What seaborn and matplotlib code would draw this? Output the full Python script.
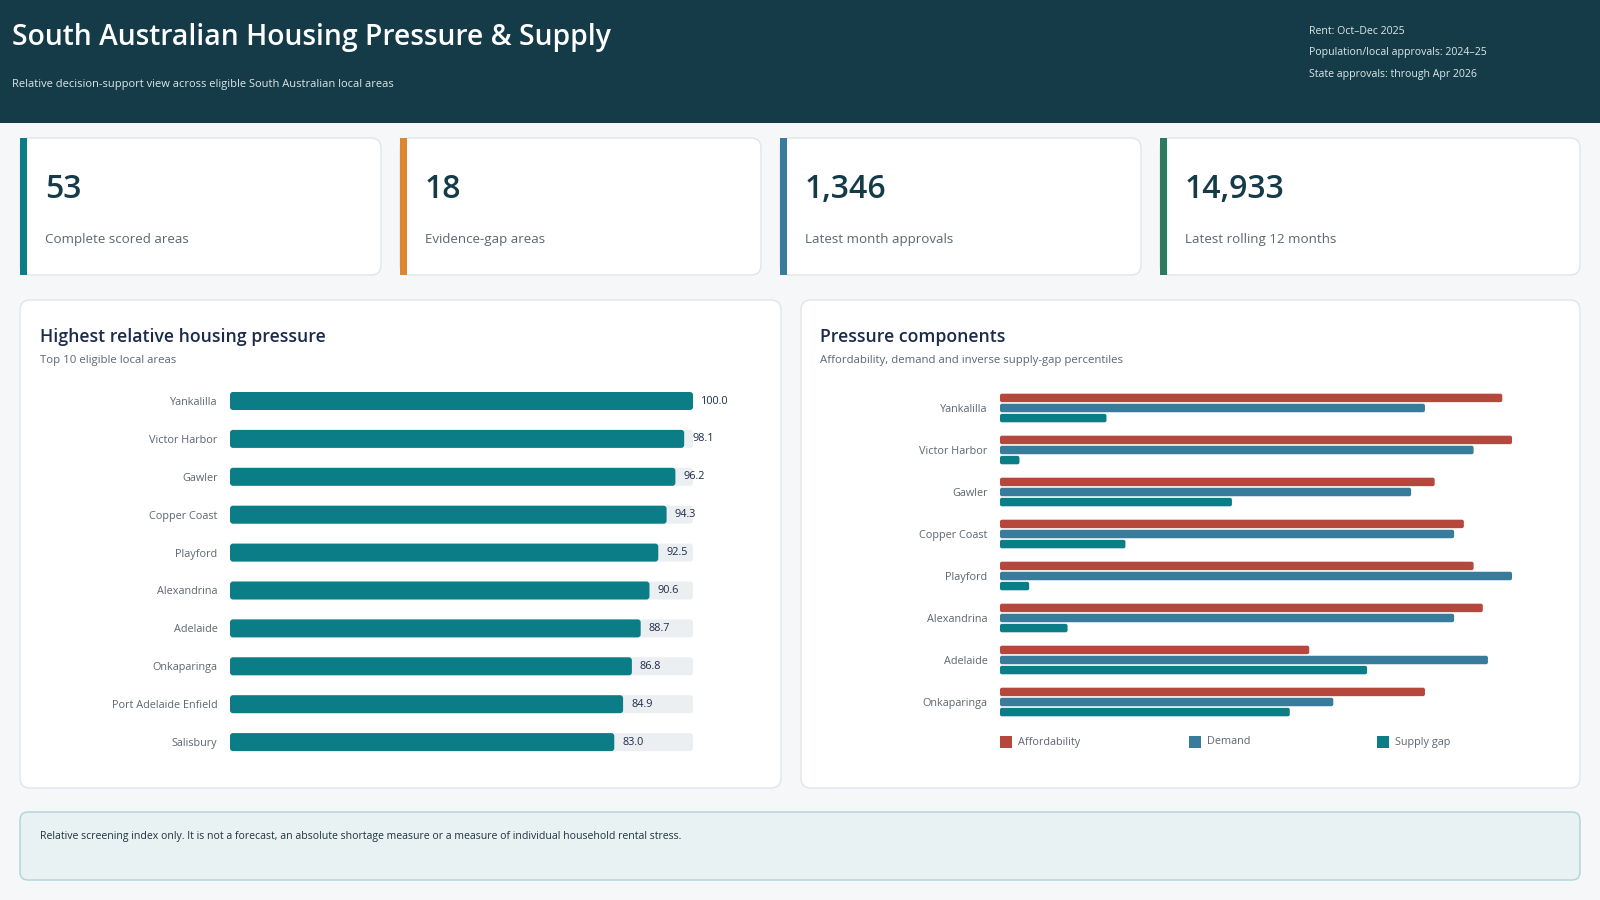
import numpy as np
import pandas as pd
import matplotlib
matplotlib.use("Agg")
import matplotlib.pyplot as plt
from matplotlib.patches import FancyBboxPatch, Rectangle
import seaborn as sns

# header texts
title = "South Australian Housing Pressure & Supply"
subtitle = "Relative decision-support view across eligible South Australian local areas"
period_notes = ["Rent: Oct\u2013Dec 2025",
                "Population/local approvals: 2024\u201325",
                "State approvals: through Apr 2026"]

# KPI cards
kpi_values = ["53", "18", "1,346", "14,933"]
kpi_labels = ["Complete scored areas", "Evidence-gap areas",
              "Latest month approvals", "Latest rolling 12 months"]
kpi_colors = ["#0b7d86", "#dd8530", "#387b9b", "#2e7a5e"]

# left chart: pressure index
top_areas = ["Yankalilla", "Victor Harbor", "Gawler", "Copper Coast", "Playford",
             "Alexandrina", "Adelaide", "Onkaparinga", "Port Adelaide Enfield", "Salisbury"]
pressure_index = [100.0, 98.1, 96.2, 94.3, 92.5, 90.6, 88.7, 86.8, 84.9, 83.0]

# right chart: components (percentiles)
component_areas = top_areas[:8]
affordability = [98.1, 100.0, 84.9, 90.6, 92.5, 94.3, 60.4, 83.0]
demand = [83.0, 92.5, 80.3, 88.7, 100.0, 88.7, 95.3, 65.1]
supply_gap = [20.8, 3.8, 45.3, 24.5, 5.7, 13.2, 71.7, 56.6]
components = ["Affordability", "Demand", "Supply gap"]
component_colors = ["#b5473d", "#387b9b", "#0b7d86"]

footnote = ("Relative screening index only. It is not a forecast, an absolute shortage "
            "measure or a measure of individual household rental stress.")

W, H = 1600, 900
NAVY = "#1c2b4a"
DARK = "#143b47"
GREY = "#5d6670"

sns.set_theme(style="white")
plt.rcParams["font.family"] = ["Open Sans", "DejaVu Sans"]

fig = plt.figure(figsize=(16, 9), dpi=100)
fig.patch.set_facecolor("#f5f7f8")


def px_axes(x, y, w, h, z=1):
    ax = fig.add_axes([x / W, 1 - (y + h) / H, w / W, h / H], zorder=z)
    return ax


# background canvas in pixel coordinates
bg = px_axes(0, 0, W, H, z=0)
bg.set_xlim(0, W)
bg.set_ylim(H, 0)
bg.axis("off")

bg.add_patch(Rectangle((0, 0), W, 123, fc=DARK, ec="none"))
bg.text(12, 37, title, fontsize=20.3, color="white", va="center", ha="left",
        fontweight="semibold")
bg.text(12, 84, subtitle, fontsize=8, color="#dde7ea", va="center")
for i, note in enumerate(period_notes):
    bg.text(1309, 31 + 22 * i, note, fontsize=7.6, color="#dde7ea", va="center")


def card(x, y, w, h, fc="white", ec="#dfe6ea", r=10, lw=1):
    bg.add_patch(FancyBboxPatch((x, y), w, h, boxstyle=f"round,pad=0,rounding_size={r}",
                                fc=fc, ec=ec, lw=lw))


# KPI cards
kpi_x = [20, 400, 780, 1160]
for x, val, lab, col in zip(kpi_x, kpi_values, kpi_labels, kpi_colors):
    card(x, 138, 420 if x == 1160 else 361, 137)
    bg.add_patch(Rectangle((x, 138), 7, 137, fc=col, ec="none"))
    bg.text(x + 25, 190, val, fontsize=23, color=DARK, va="center", fontweight="semibold")
    bg.text(x + 25, 240, lab, fontsize=9.6, color=GREY, va="center")

# chart panels
card(20, 300, 761, 488)
card(801, 300, 779, 488)
bg.text(40, 337, "Highest relative housing pressure", fontsize=12.7, color=NAVY,
        va="center", fontweight="semibold")
bg.text(40, 361, "Top 10 eligible local areas", fontsize=8.2, color=GREY, va="center")
bg.text(820, 337, "Pressure components", fontsize=12.7, color=NAVY,
        va="center", fontweight="semibold")
bg.text(820, 361, "Affordability, demand and inverse supply-gap percentiles",
        fontsize=8.2, color=GREY, va="center")

# footer note
card(20, 812, 1560, 68, fc="#e9f2f3", ec="#aed4d5", r=8)
bg.text(40, 837, footnote, fontsize=7.6, color="#1f3440", va="center")


def round_bars(ax, ux, uy, r):
    # swap seaborn rectangles for rounded boxes (ux/uy = data units per pixel)
    for p in list(ax.patches):
        if not isinstance(p, Rectangle) or p.get_width() <= 0:
            continue
        fb = FancyBboxPatch((p.get_x(), p.get_y()), p.get_width(), p.get_height(),
                            boxstyle=f"round,pad=0,rounding_size={r * ux}",
                            mutation_aspect=uy / ux, fc=p.get_facecolor(), ec="none",
                            zorder=p.get_zorder())
        p.remove()
        ax.add_patch(fb)


# left chart
step_l = 37.9
ax1 = px_axes(230, 401 - step_l / 2, 463, step_l * 10, z=2)
ax1.patch.set_alpha(0)
df_l = pd.DataFrame({"area": top_areas, "score": pressure_index, "track": 100.0})
sns.barplot(data=df_l, x="track", y="area", orient="h", color="#eceff1",
            width=0.475, saturation=1, ax=ax1)
sns.barplot(data=df_l, x="score", y="area", orient="h", color="#0b7d86",
            width=0.475, saturation=1, ax=ax1)
ax1.set_xlim(0, 100)
ax1.set_ylim(len(top_areas) - 0.5, -0.5)
round_bars(ax1, 100 / 463, 1 / step_l, 3)
for i, v in enumerate(pressure_index):
    ax1.text(v + 8 * 100 / 463, i, f"{v:.1f}", va="center", ha="left",
             fontsize=7.8, color=NAVY, zorder=5)
ax1.set_xlabel("")
ax1.set_ylabel("")
ax1.set_xticks([])
ax1.tick_params(axis="y", length=0, pad=9, labelsize=7.8, labelcolor=GREY)
sns.despine(ax=ax1, left=True, bottom=True)

# right chart
step_r = 42.0
ax2 = px_axes(1000, 408 - step_r / 2, 512, step_r * 8, z=2)
ax2.patch.set_alpha(0)
df_r = pd.DataFrame({"area": component_areas, components[0]: affordability,
                     components[1]: demand, components[2]: supply_gap})
df_r = df_r.melt(id_vars="area", var_name="component", value_name="value")
sns.barplot(data=df_r, x="value", y="area", hue="component", orient="h",
            hue_order=components, palette=dict(zip(components, component_colors)),
            width=0.72, gap=0.16, saturation=1, legend=False, ax=ax2)
ax2.set_xlim(0, 100)
ax2.set_ylim(len(component_areas) - 0.5, -0.5)
round_bars(ax2, 100 / 512, 1 / step_r, 2)
ax2.set_xlabel("")
ax2.set_ylabel("")
ax2.set_xticks([])
ax2.tick_params(axis="y", length=0, pad=9, labelsize=7.8, labelcolor=GREY)
sns.despine(ax=ax2, left=True, bottom=True)

# legend row
for i, (name, col) in enumerate(zip(components, component_colors)):
    lx = 1000 + 188.5 * i
    bg.add_patch(Rectangle((lx, 736), 12, 12, fc=col, ec="none"))
    bg.text(lx + 18, 742, name, fontsize=7.8, color=GREY, va="center")

fig.savefig("out.png", dpi=100, facecolor=fig.get_facecolor())
